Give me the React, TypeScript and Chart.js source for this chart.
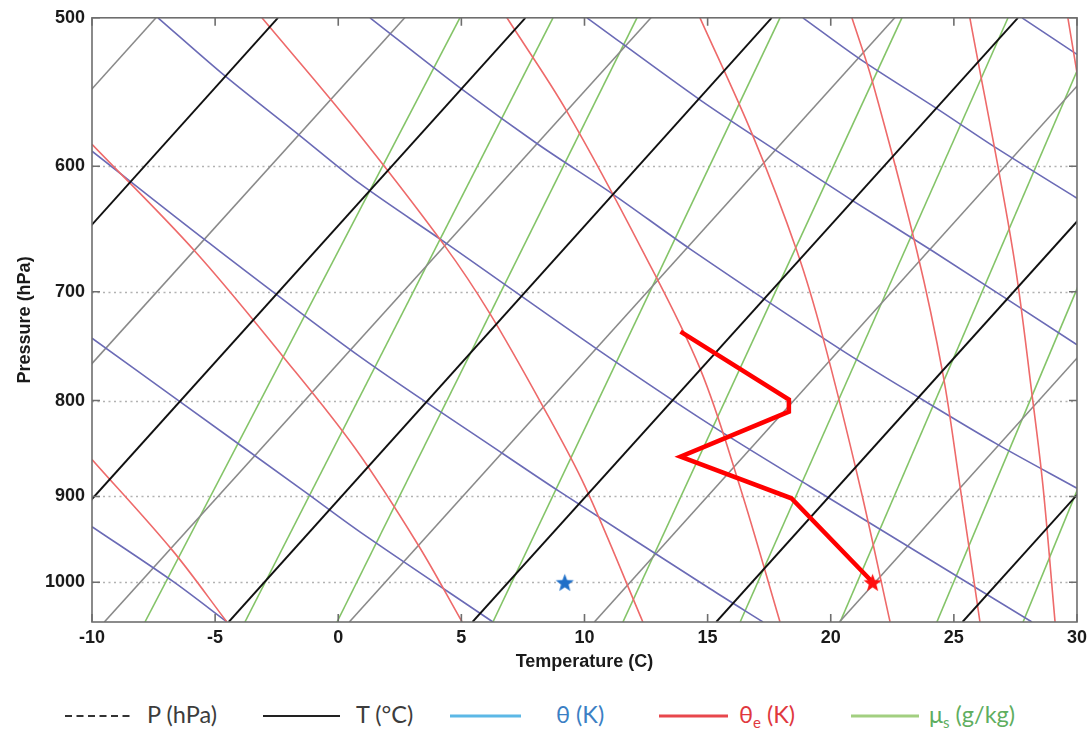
import React, { useEffect, useRef } from 'react';
import { Chart, registerables } from 'chart.js';
Chart.register(...registerables);

// ---- axes ----
const xTickValues = [-10, -5, 0, 5, 10, 15, 20, 25, 30];
const pressureTicks = [500, 600, 700, 800, 900, 1000];
const P_TOP = 500;
const P_BOTTOM = 1050;

// ---- isotherms (x position at 1050 hPa and at 500 hPa) ----
const blackIsoBottom = [-24.5, -14.5, -4.45, 5.45, 15.35, 25.35];
const blackIsoTop = [-2.45, 7.6, 17.6, 27.6, 37.45, 47.45];
const grayIsoBottom = [-29.5, -19.5, -9.5, 0.45, 10.4, 20.35];
const grayIsoTop = [-7.4, 2.7, 12.7, 22.6, 32.5, 42.45];

// ---- saturation mixing ratio lines (x at 1050 hPa and at 500 hPa) ----
const mixBottom = [-7.85, -3.79, -0.05, 6.28, 11.56, 16.32, 20.38, 24.31, 27.81];
const mixTop = [4.94, 8.72, 12.13, 17.94, 22.89, 27.2, 30.93, 34.63, 37.88];

// ---- dry adiabats [x, p] ----
const dryAdiabat1 = [[-10, 934], [-6.71, 999], [-4.52, 1050]];
const dryAdiabat2 = [[-10, 741], [-6.43, 801], [-1.35, 895], [0.88, 940], [6.28, 1050]];
const dryAdiabat3 = [[-10, 589], [-5.33, 658], [0.88, 758], [6.69, 854], [9.01, 895], [15.1, 1008], [17.25, 1050]];
const dryAdiabat4 = [[-7.32, 500], [-4.6, 537], [-1.55, 578], [0.88, 613], [4.42, 660], [10.51, 751], [15.1, 824], [19.16, 889], [28.17, 1050]];
const dryAdiabat5 = [[1.29, 500], [5.03, 546], [8.11, 584], [11.16, 621], [14.28, 664], [20.38, 751], [23.71, 799], [26.75, 844], [30, 891]];
const dryAdiabat6 = [[10.1, 500], [14.69, 553], [17.82, 589], [20.9, 626], [24.15, 666], [30, 747]];
const dryAdiabat7 = [[18.87, 500], [21.19, 526], [24.31, 559], [26.75, 587], [30, 624]];
const dryAdiabat8 = [[27.77, 500], [30, 523]];

// ---- equivalent potential temperature lines [x, p] ----
const thetaE1 = [[-10, 860], [-6.75, 961], [-4.52, 1050]];
const thetaE2 = [[-10, 584], [-5.82, 666], [-2.24, 758], [0.68, 848], [3.24, 955], [5.03, 1050]];
const thetaE3 = [[-3.1, 500], [0.48, 569], [4.34, 662], [6.16, 719], [8.27, 804], [10.02, 889], [12.37, 1050]];
const thetaE4 = [[6.85, 500], [9.29, 561], [12.37, 666], [14.69, 769], [16.31, 889], [17.94, 1050]];
const thetaE5 = [[14.69, 500], [16.84, 578], [18.63, 666], [19.69, 741], [21.19, 889], [22.41, 1050]];
const thetaE6 = [[20.86, 500], [21.68, 540], [23.5, 666], [24.56, 775], [25.25, 889], [26.06, 1050]];
const thetaE7 = [[25.65, 500], [27.4, 666], [28.21, 801], [28.62, 889], [29.11, 1050]];
const thetaE8 = [[29.63, 500], [30.3, 565]];

// ---- sounding profile ----
const profileT = [13.9, 18.3, 18.3, 13.9, 18.4, 21.7];
const profileP = [735, 799, 811, 857, 902, 1000];
const surfaceStarT = 21.7;
const blueStarT = 9.2;
const starP = 1000;

const dryAdiabats = [dryAdiabat1, dryAdiabat2, dryAdiabat3, dryAdiabat4, dryAdiabat5, dryAdiabat6, dryAdiabat7, dryAdiabat8];
const thetaELines = [thetaE1, thetaE2, thetaE3, thetaE4, thetaE5, thetaE6, thetaE7, thetaE8];

function makeStar(color: string, r: number) {
  const c = document.createElement('canvas');
  const s = Math.ceil(r * 2 + 2);
  c.width = s;
  c.height = s;
  const g = c.getContext('2d')!;
  g.translate(s / 2, s / 2 + 1);
  g.beginPath();
  for (let i = 0; i < 10; i++) {
    const rad = i % 2 === 0 ? r : r * 0.42;
    const a = -Math.PI / 2 + (i * Math.PI) / 5;
    g.lineTo(rad * Math.cos(a), rad * Math.sin(a));
  }
  g.closePath();
  g.fillStyle = color;
  g.fill();
  return c;
}

function lineDs(pts: number[][], color: string, width: number, tension = 0) {
  return {
    data: pts.map(([x, p]) => ({ x, y: p })),
    borderColor: color,
    backgroundColor: color,
    borderWidth: width,
    pointRadius: 0,
    pointHoverRadius: 0,
    showLine: true,
    tension,
    fill: false,
    clip: 0,
  };
}

const framePlugin = {
  id: 'skewFrame',
  beforeDatasetsDraw(chart: any) {
    const { ctx, chartArea: a, scales } = chart;
    ctx.save();
    ctx.strokeStyle = '#b2b2b2';
    ctx.lineWidth = 1.6;
    ctx.setLineDash([2, 3.5]);
    pressureTicks.forEach((p) => {
      if (p === P_TOP) return;
      const y = Math.round(scales.y.getPixelForValue(p)) + 0.5;
      ctx.beginPath();
      ctx.moveTo(a.left, y);
      ctx.lineTo(a.right, y);
      ctx.stroke();
    });
    ctx.restore();
  },
  afterDatasetsDraw(chart: any) {
    const { ctx, chartArea: a, scales } = chart;
    ctx.save();
    ctx.strokeStyle = '#6e6e6e';
    ctx.lineWidth = 1.6;
    ctx.setLineDash([]);
    ctx.strokeRect(a.left, a.top, a.right - a.left, a.bottom - a.top);
    const tl = 8;
    xTickValues.forEach((v) => {
      const x = scales.x.getPixelForValue(v);
      ctx.beginPath();
      ctx.moveTo(x, a.bottom);
      ctx.lineTo(x, a.bottom - tl);
      ctx.moveTo(x, a.top);
      ctx.lineTo(x, a.top + tl);
      ctx.stroke();
    });
    pressureTicks.forEach((p) => {
      const y = scales.y.getPixelForValue(p);
      ctx.beginPath();
      ctx.moveTo(a.left, y);
      ctx.lineTo(a.left + tl, y);
      ctx.moveTo(a.right, y);
      ctx.lineTo(a.right - tl, y);
      ctx.stroke();
    });
    ctx.restore();
  },
};

const axisFont = { family: '"Liberation Sans", Arial, sans-serif', size: 18, weight: 'bold' as const };

export default function App() {
  const ref = useRef<HTMLCanvasElement>(null);

  useEffect(() => {
    const canvas = ref.current!;
    const blueStar = makeStar('#1f6fc8', 9.5);
    const redStar = makeStar('#ff1010', 9.5);
    const datasets: any[] = [];
    datasets.push({ data: [{ x: blueStarT, y: starP }], pointStyle: blueStar, pointRadius: 9, pointHoverRadius: 9, showLine: false, clip: 0 });
    datasets.push({ data: [{ x: surfaceStarT, y: starP }], pointStyle: redStar, pointRadius: 9, pointHoverRadius: 9, showLine: false, clip: 0 });
    datasets.push({
      ...lineDs(profileT.map((t, i) => [t, profileP[i]]), '#ff0000', 4.5),
      borderJoinStyle: 'miter',
    });
    blackIsoBottom.forEach((b, i) => datasets.push(lineDs([[b, P_BOTTOM], [blackIsoTop[i], P_TOP]], '#111111', 1.9)));
    thetaELines.forEach((l) => datasets.push(lineDs(l, '#ee6a6a', 1.6, 0.35)));
    dryAdiabats.forEach((l) => datasets.push(lineDs(l, '#6b6bb6', 1.6, 0.3)));
    grayIsoBottom.forEach((b, i) => datasets.push(lineDs([[b, P_BOTTOM], [grayIsoTop[i], P_TOP]], '#8a8a8a', 1.6)));
    mixBottom.forEach((b, i) => datasets.push(lineDs([[b, P_BOTTOM], [mixTop[i], P_TOP]], '#84c468', 1.6)));

    const chart = new Chart(canvas, {
      type: 'scatter',
      data: { datasets },
      options: {
        animation: false,
        responsive: false,
        devicePixelRatio: 1,
        events: [],
        layout: { padding: { left: 10, right: 15, top: 17, bottom: 0 } },
        plugins: { legend: { display: false }, tooltip: { enabled: false } },
        scales: {
          x: {
            type: 'linear',
            min: -10,
            max: 30,
            afterBuildTicks: (s: any) => {
              s.ticks = xTickValues.map((v) => ({ value: v }));
            },
            afterFit: (s: any) => {
              s.height = 55;
            },
            grid: { display: false, drawTicks: false },
            border: { display: false },
            ticks: {
              font: axisFont,
              color: '#1a1a1a',
              padding: 5,
              maxRotation: 0,
              autoSkip: false,
              callback: (v: any) => String(v),
            },
            title: { display: true, text: 'Temperature (C)', font: axisFont, color: '#1a1a1a', padding: { top: 4, bottom: 4 } },
          },
          y: {
            type: 'logarithmic',
            reverse: true,
            min: P_TOP,
            max: P_BOTTOM,
            afterBuildTicks: (s: any) => {
              s.ticks = pressureTicks.map((v) => ({ value: v }));
            },
            afterFit: (s: any) => {
              s.width = 82;
            },
            grid: { display: false, drawTicks: false },
            border: { display: false },
            ticks: {
              font: axisFont,
              color: '#1a1a1a',
              padding: 7,
              autoSkip: false,
              callback: (v: any) => String(v),
            },
            title: { display: true, text: 'Pressure (hPa)', font: axisFont, color: '#1a1a1a', padding: { top: 4, bottom: 4 } },
          },
        },
      } as any,
      plugins: [framePlugin],
    });
    return () => chart.destroy();
  }, []);

  const legendFont = 'Lato, "Open Sans", sans-serif';
  return (
    <div style={{ position: 'fixed', left: 0, top: 0, width: 1092, height: 735, background: '#ffffff', overflow: 'hidden' }}>
      <canvas ref={ref} width={1092} height={677} style={{ position: 'absolute', left: 0, top: 0, width: 1092, height: 677 }} />
      <svg width={1092} height={58} style={{ position: 'absolute', left: 0, top: 677 }}>
        <g fontFamily={legendFont} fontSize={23.5}>
          <line x1={65} x2={134} y1={39} y2={39} stroke="#333" strokeWidth={2} strokeDasharray="7 4.5" />
          <text x={147} y={46} fill="#3c3c3c">P (hPa)</text>
          <line x1={263} x2={340} y1={39} y2={39} stroke="#222" strokeWidth={2} />
          <text x={356} y={46} fill="#3c3c3c">T (°C)</text>
          <line x1={450} x2={521} y1={39} y2={39} stroke="#5cb8e6" strokeWidth={3} />
          <text x={556} y={46} fill="#3b7fc4">θ (K)</text>
          <line x1={659} x2={728} y1={39} y2={39} stroke="#e8474c" strokeWidth={3} />
          <text x={739} y={46} fill="#e0383e">
            θ<tspan fontSize={15} dy={5}>e</tspan>
            <tspan dy={-5}> (K)</tspan>
          </text>
          <line x1={851} x2={919} y1={39} y2={39} stroke="#a2cf80" strokeWidth={3} />
          <text x={929} y={46} fill="#5fae5f">
            μ<tspan fontSize={15} dy={5}>s</tspan>
            <tspan dy={-5}> (g/kg)</tspan>
          </text>
        </g>
      </svg>
    </div>
  );
}
